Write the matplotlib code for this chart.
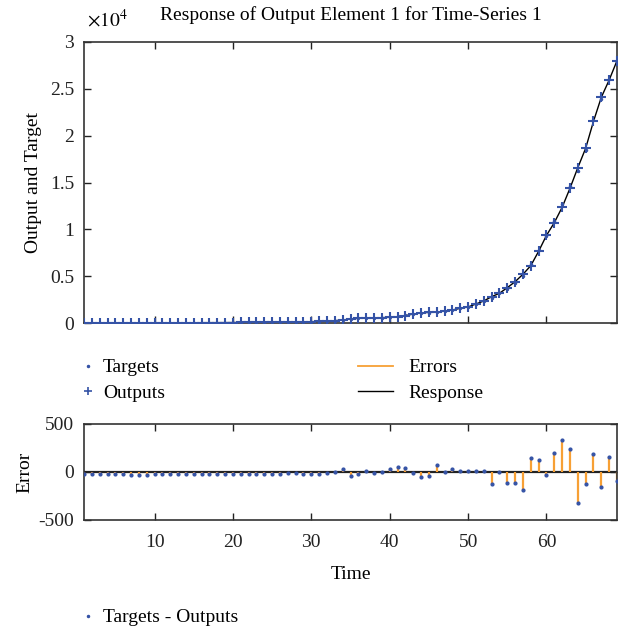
import numpy as np
import matplotlib.pyplot as plt
from matplotlib.lines import Line2D

plt.rcParams["font.family"] = ["Liberation Serif", "DejaVu Serif"]
plt.rcParams["mathtext.fontset"] = "stix"
plt.rcParams["axes.unicode_minus"] = False

# time steps 1..69
time = np.arange(1, 70)

outputs = [5, 5, 8, 10, 10, 12, 15, 15, 18, 20,
           22, 25, 28, 30, 32, 35, 38, 40, 45, 50,
           55, 60, 65, 70, 80, 90, 100, 110, 125, 140,
           170, 200, 250, 320, 430, 500, 530, 560, 570, 610,
           670, 780, 960, 1070, 1140, 1140, 1280, 1390, 1570, 1710,
           2030, 2350, 2810, 3170, 3770, 4410, 5200, 6120, 7650, 9350,
           10710, 12350, 14380, 16580, 18650, 21530, 24100, 25940, 28000]

# errors = targets - outputs
errors = [-25, -25, -25, -25, -25, -25, -27, -35, -33, -25,
          -25, -25, -25, -25, -25, -25, -25, -25, -25, -25,
          -25, -25, -25, -25, -22, -20, -15, -15, -20, -22,
          -20, -10, 5, 28, -43, -16, 8, -14, -3, 30,
          50, 45, -14, -52, -45, 78, -4, 28, 14, 10,
          10, 7, -130, 0, -110, -110, -187, 143, 130, -27,
          193, 335, 237, -327, -127, 190, -157, 160, -90]

outputs = np.array(outputs, dtype=float)
errors = np.array(errors, dtype=float)
targets = outputs + errors

blue = "#3553a6"
orange = "#f7a035"
fs = 14

fig = plt.figure(figsize=(6.18, 6.33), dpi=100)
ax1 = fig.add_axes([84 / 618, 1 - 323 / 633, 533 / 618, 281 / 633])
ax2 = fig.add_axes([84 / 618, 1 - 520 / 633, 533 / 618, 96 / 633])

# response plot
ax1.plot(time, outputs, color="black", lw=1.0, zorder=2)
ax1.plot(time, targets, ".", color=blue, ms=3, zorder=3)
ax1.plot(time, outputs, "+", color=blue, ms=7.5, mew=1.5, zorder=4)
ax1.set_xlim(1, 69)
ax1.set_ylim(0, 30000)
ax1.set_yticks(np.arange(0, 30001, 5000))
ax1.set_yticklabels(["0", "0.5", "1", "1.5", "2", "2.5", "3"])
ax1.set_xticks(np.arange(10, 61, 10))
ax1.set_xticklabels([])
ax1.set_ylabel("Output and Target", fontsize=fs, labelpad=6)
ax1.set_title("Response of Output Element 1 for Time-Series 1", fontsize=fs, pad=16)
fig.text(87 / 618, 1 - 20 / 633, r"$\times10^{4}$", fontsize=fs, va="center")

# error plot
ax2.axhline(0, color="#222222", lw=1.6, zorder=1)
ax2.vlines(time, 0, errors, color=orange, lw=1.6, zorder=2)
ax2.plot(time, errors, ".", color=blue, ms=4, zorder=3)
ax2.set_xlim(1, 69)
ax2.set_ylim(-500, 500)
ax2.set_yticks([-500, 0, 500])
ax2.set_xticks(np.arange(10, 61, 10))
ax2.set_ylabel("Error", fontsize=fs, labelpad=4)
ax2.set_xlabel("Time", fontsize=fs, labelpad=11)

for ax in (ax1, ax2):
    ax.tick_params(direction="in", top=True, right=True, length=5, width=1.0,
                   labelsize=fs, colors="#222222", pad=7)
    for s in ax.spines.values():
        s.set_linewidth(1.2)
        s.set_color("#333333")
ax2.tick_params(axis="x", pad=10)

h_t = Line2D([], [], ls="none", marker=".", color=blue, ms=3)
h_o = Line2D([], [], ls="none", marker="+", color=blue, ms=6, mew=1.2)
h_e = Line2D([], [], color=orange, lw=1.3)
h_r = Line2D([], [], color="black", lw=1.0)
fig.legend([h_t, h_o], ["Targets", "Outputs"], loc="upper left",
           bbox_to_anchor=(70 / 618, 1 - 351 / 633), frameon=False, fontsize=fs,
           handlelength=1.0, handletextpad=0.3, labelspacing=0.4, borderaxespad=0)
fig.legend([h_e, h_r], ["Errors", "Response"], loc="upper left",
           bbox_to_anchor=(350 / 618, 1 - 351 / 633), frameon=False, fontsize=fs,
           handlelength=1.8, handletextpad=0.8, labelspacing=0.4, borderaxespad=0)
fig.legend([h_t], ["Targets - Outputs"], loc="upper left",
           bbox_to_anchor=(70 / 618, 1 - 601 / 633), frameon=False, fontsize=fs,
           handlelength=1.0, handletextpad=0.3, borderaxespad=0)

fig.savefig("out.png", dpi=100)
